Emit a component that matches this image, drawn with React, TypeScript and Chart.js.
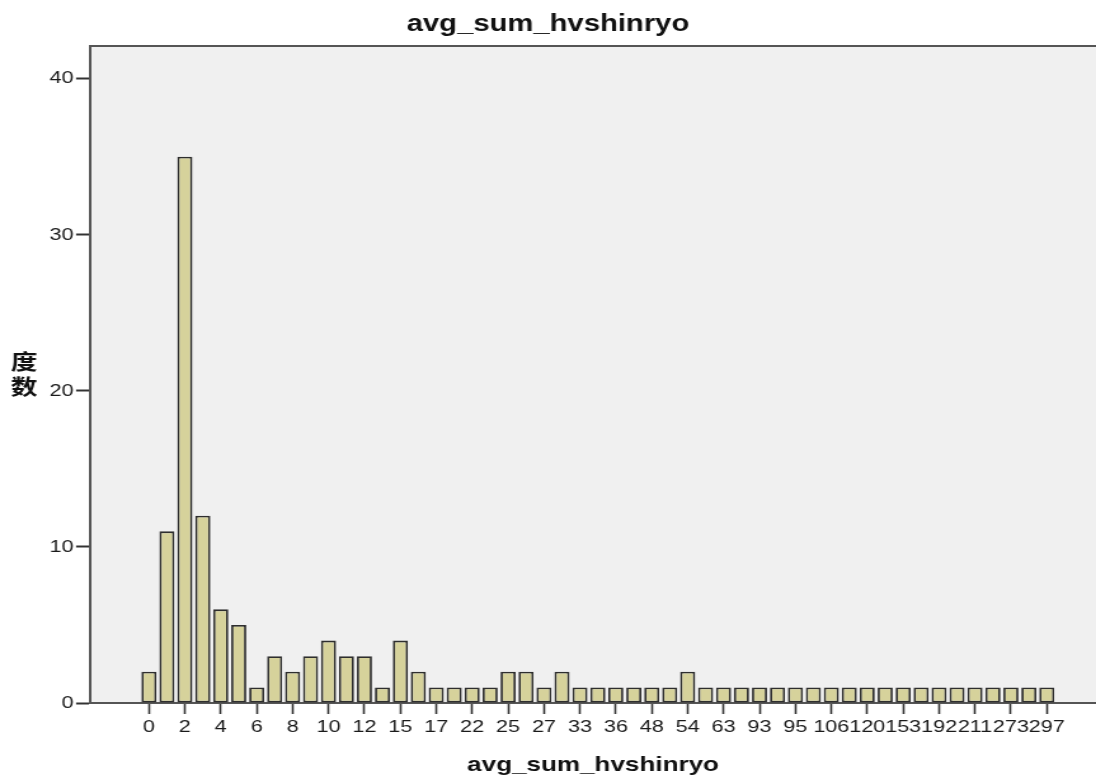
import React, { useEffect, useRef } from "react";
import { Chart, registerables } from "chart.js";

Chart.register(...registerables);

// Category values (only every other one is labelled on the axis)
const xLabels: string[] = [
  "0", "1", "2", "3", "4", "5", "6", "7", "8", "9",
  "10", "11", "12", "14", "15", "16", "17", "19", "22", "24",
  "25", "26", "27", "30", "33", "35", "36", "44", "48", "52",
  "54", "58", "63", "75", "93", "94", "95", "100", "106", "110",
  "120", "135", "153", "170", "192", "200", "211", "250", "273", "285",
  "297",
];

const counts: number[] = [
  2, 11, 35, 12, 6, 5, 1, 3, 2, 3,
  4, 3, 3, 1, 4, 2, 1, 1, 1, 1,
  2, 2, 1, 2, 1, 1, 1, 1, 1, 1,
  2, 1, 1, 1, 1, 1, 1, 1, 1, 1,
  1, 1, 1, 1, 1, 1, 1, 1, 1, 1,
  1,
];

const yTicks: number[] = [0, 10, 20, 30, 40];

const chartTitle = "avg_sum_hvshinryo";
const xTitle = "avg_sum_hvshinryo";
const yTitleChars: string[] = ["度", "数"];

// The reference is horizontally stretched; render narrower and stretch with CSS
const STRETCH = 1.27;
const OUT_W = 1096;
const OUT_H = 778;
const W = Math.round(OUT_W / STRETCH);

const FONT = '"Liberation Sans", Arial, sans-serif';

export default function App() {
  const ref = useRef<HTMLCanvasElement | null>(null);

  useEffect(() => {
    const canvas = ref.current;
    if (!canvas) return;

    const bgPlugin = {
      id: "plotBg",
      beforeDraw(chart: any) {
        const { ctx, chartArea } = chart;
        ctx.save();
        ctx.fillStyle = "#ffffff";
        ctx.fillRect(0, 0, chart.width, chart.height);
        ctx.fillStyle = "#f0f0f0";
        ctx.fillRect(chartArea.left, chartArea.top, chartArea.right - chartArea.left, chartArea.bottom - chartArea.top);
        ctx.restore();
      },
      afterDraw(chart: any) {
        const { ctx, chartArea } = chart;
        ctx.save();
        ctx.strokeStyle = "#555555";
        ctx.lineWidth = 2;
        ctx.beginPath();
        ctx.moveTo(chartArea.left, chartArea.top);
        ctx.lineTo(chartArea.right, chartArea.top);
        ctx.stroke();
        ctx.fillStyle = "#111111";
        ctx.font = `bold 21px "Noto Sans CJK SC", sans-serif`;
        ctx.textAlign = "center";
        ctx.textBaseline = "middle";
        ctx.fillText(yTitleChars[0], 19, 361);
        ctx.fillText(yTitleChars[1], 19, 386);
        ctx.restore();
      },
    };

    const chart = new Chart(canvas, {
      type: "bar",
      data: {
        datasets: [
          {
            data: counts.map((v, i) => ({ x: i, y: v })),
            backgroundColor: "#d6d29b",
            borderColor: "#2e2e2e",
            borderWidth: 1.8,
            borderSkipped: false,
            categoryPercentage: 1,
            barPercentage: 0.84,
          },
        ],
      },
      options: {
        animation: false,
        responsive: false,
        devicePixelRatio: 1,
        layout: { padding: { left: 0, right: 0, top: 0, bottom: 0 } },
        plugins: {
          legend: { display: false },
          tooltip: { enabled: false },
          title: {
            display: true,
            text: chartTitle,
            color: "#111111",
            font: { family: FONT, size: 23, weight: "bold" },
            padding: { top: 11, bottom: 7.4 },
          },
        },
        scales: {
          x: {
            type: "linear",
            offset: false,
            min: -3.28,
            max: 52.74,
            afterFit(scale: any) {
              scale.height = 75;
            },
            afterBuildTicks(scale: any) {
              scale.ticks = xLabels.map((_, i) => i).filter((i) => i % 2 === 0).map((v) => ({ value: v }));
            },
            grid: {
              display: true,
              offset: false,
              drawOnChartArea: false,
              drawTicks: true,
              tickLength: 11,
              tickColor: "#333333",
              tickWidth: 1.6,
            },
            border: { display: true, color: "#555555", width: 2 },
            ticks: {
              autoSkip: false,
              maxRotation: 0,
              minRotation: 0,
              padding: 3,
              color: "#1a1a1a",
              font: { family: FONT, size: 17 },
              callback: (v: any) => {
                const i = Math.round(Number(v));
                return i >= 0 && i < xLabels.length ? xLabels[i] : "";
              },
            },
            title: {
              display: true,
              text: xTitle,
              color: "#111111",
              font: { family: FONT, size: 20.5, weight: "bold" },
              padding: { top: 0, bottom: 0 },
            },
          },
          y: {
            type: "linear",
            min: 0,
            max: 42.1,
            afterFit(scale: any) {
              scale.width = 70.9;
            },
            afterBuildTicks(scale: any) {
              scale.ticks = yTicks.map((v) => ({ value: v }));
            },
            grid: {
              display: true,
              drawOnChartArea: false,
              drawTicks: true,
              tickLength: 11,
              tickColor: "#333333",
              tickWidth: 2,
            },
            border: { display: true, color: "#555555", width: 2 },
            ticks: {
              padding: 2,
              color: "#1a1a1a",
              font: { family: FONT, size: 17 },
            },
          },
        },
      },
      plugins: [bgPlugin],
    } as any);

    return () => {
      chart.destroy();
    };
  }, []);

  return (
    <canvas
      ref={ref}
      width={W}
      height={OUT_H}
      style={{
        position: "absolute",
        left: 0,
        top: 0,
        width: `${OUT_W}px`,
        height: `${OUT_H}px`,
        display: "block",
      }}
    />
  );
}
